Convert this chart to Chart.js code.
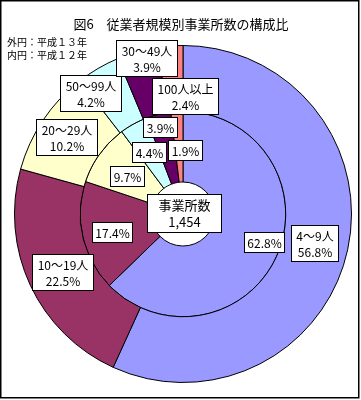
<!DOCTYPE html>
<html>
<head>
<meta charset="utf-8">
<script src="https://cdn.jsdelivr.net/npm/chart.js@4/dist/chart.umd.min.js"></script>
<style>
  html, body { margin: 0; padding: 0; background: #fff; }
  canvas { display: block; }
</style>
</head>
<body>
<canvas id="chart" width="361" height="400"></canvas>
<script>
// Data - slices in drawing order (clockwise from the top)
const categories = ['4～9人', '10～19人', '20～29人', '50～99人', '30～49人', '100人以上'];
const outerValues = [56.8, 22.5, 10.2, 4.2, 3.9, 2.4];   // 外円: 平成13年
const innerValues = [62.8, 17.4, 9.7, 4.4, 3.9, 1.9];    // 内円: 平成12年
const totalLines = ['事業所数', '1,454'];

const titleText = '図6　従業者規模別事業所数の構成比';
const noteLines = ['外円：平成１３年', '内円：平成１２年'];

// Styling
const sliceColors = ['#9999FF', '#993366', '#FFFFCC', '#CCFFFF', '#660066', '#FF8080'];
const jpFont = '"Noto Sans CJK JP", "Noto Sans", sans-serif';

// Label boxes were moved around by hand in the original, nudge from the arc centroid
const outerLabelShift = [[-1, 0], [2, 1], [-4, -1], [-24, -4], [0, -25], [12, 17]];
const innerLabelShift = [[19, 2], [-5, 3], [-1, 1], [-2, -3], [-7, -22], [6, 3]];

// Draw a white box with black frame and centred lines of text
function drawBox(ctx, lines, cx, cy, fontSize, padX) {
    ctx.font = fontSize + 'px ' + jpFont;
    const lineH = fontSize + 4;
    let w = 0;
    lines.forEach(t => { w = Math.max(w, ctx.measureText(t).width); });
    w = Math.round(w + padX * 2);
    const h = Math.round(lines.length * lineH + 4);
    const x = Math.round(cx - w / 2) + 0.5;
    const y = Math.round(cy - h / 2) + 0.5;
    ctx.fillStyle = '#fff';
    ctx.fillRect(x, y, w, h);
    ctx.strokeStyle = '#000';
    ctx.lineWidth = 1;
    ctx.strokeRect(x, y, w, h);
    ctx.fillStyle = '#000';
    ctx.textAlign = 'center';
    ctx.textBaseline = 'middle';
    lines.forEach((t, i) => {
        ctx.fillText(t, x + w / 2, y + 2.5 + lineH * (i + 0.5));
    });
}

const frameAndText = {
    id: 'frameAndText',
    beforeDraw(chart) {
        const ctx = chart.ctx;
        ctx.save();
        ctx.fillStyle = '#fff';
        ctx.fillRect(0, 0, chart.width, chart.height);
        ctx.strokeStyle = '#000';
        ctx.lineWidth = 1.5;
        ctx.strokeRect(0.75, 0.75, chart.width - 3, chart.height - 3);
        ctx.restore();
    },
    afterDraw(chart) {
        const ctx = chart.ctx;
        ctx.save();
        ctx.fillStyle = '#000';
        ctx.textAlign = 'center';
        ctx.textBaseline = 'middle';
        ctx.font = '13px ' + jpFont;
        ctx.fillText(titleText, 181, 24);

        ctx.textAlign = 'left';
        ctx.font = '10px ' + jpFont;
        noteLines.forEach((t, i) => ctx.fillText(t, 7, 42 + i * 13));

        // percentage labels from each arc's centroid, inner ring first
        const drawSet = (di, vals, shift, withName) => {
            const arcs = chart.getDatasetMeta(di).data;
            arcs.forEach((arc, i) => {
                const p = arc.tooltipPosition();
                const lines = withName ? [categories[i], vals[i].toFixed(1) + '%'] : [vals[i].toFixed(1) + '%'];
                drawBox(ctx, lines, p.x + shift[i][0], p.y + shift[i][1], 12, withName ? 5 : 3);
            });
        };
        drawSet(1, innerValues, innerLabelShift, false);
        drawSet(0, outerValues, outerLabelShift, true);

        const c = chart.getDatasetMeta(0).data[0];
        drawBox(ctx, totalLines, c.x + 1, c.y - 1, 13, 11);
        ctx.restore();
    }
};

new Chart(document.getElementById('chart'), {
    type: 'doughnut',
    data: {
        labels: categories,
        datasets: [{
            label: '平成13年',
            data: outerValues,
            backgroundColor: sliceColors,
            borderColor: '#000',
            borderWidth: 1,
            weight: 66
        }, {
            label: '平成12年',
            data: innerValues,
            backgroundColor: sliceColors,
            borderColor: '#000',
            borderWidth: 1,
            weight: 71
        }]
    },
    options: {
        responsive: false,
        animation: false,
        cutout: 32,
        layout: {
            padding: { left: 14, right: 9, top: 45, bottom: 17 }
        },
        plugins: {
            legend: { display: false },
            tooltip: { enabled: false },
            title: { display: false }
        }
    },
    plugins: [frameAndText]
});
</script>
</body>
</html>
